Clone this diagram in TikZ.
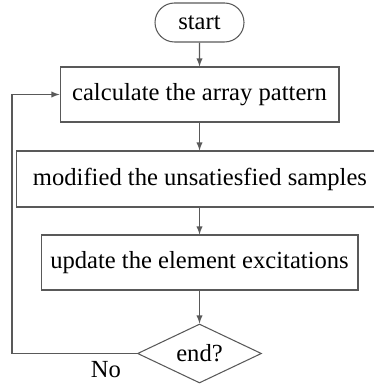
\documentclass[tikz,border=0pt]{standalone}
\usepackage{fontspec}
\setmainfont{Liberation Serif}
\usetikzlibrary{shapes.geometric}
\usetikzlibrary{shapes.misc}

\begin{document}
\begin{tikzpicture}[x=0.02cm, y=-0.02cm,
            every node/.style={font=\fontsize{14}{16}\selectfont, text=black},
            flowline/.style={draw=black!65, line width=0.6pt},
            stepbox/.style={rectangle, flowline, inner sep=0pt},
            terminal/.style={rounded rectangle, flowline, inner sep=0pt, minimum width=1.78cm, minimum height=0.78cm},
            decision/.style={diamond, flowline, inner sep=0pt, aspect=2.1, minimum width=2.48cm, minimum height=1.18cm}]
            \useasboundingbox (0,0) rectangle (373,388);
            \node[terminal] (start) at (199.5,22.5) {start};
            \node[stepbox, minimum width=5.58cm, minimum height=1.1cm] (calc) at (199.5,94.5) {calculate the array pattern};
            \node[stepbox, minimum width=7.36cm, minimum height=1.12cm] (modify) at (200,179) {modified the unsatiesfied samples};
            \node[stepbox, minimum width=6.34cm, minimum height=1.1cm] (update) at (199.5,262.5) {update the element excitations};
            \node[decision] (end) at (199.5,353.5) {end?};
            \coordinate (loop) at (12,353.5);
            \node (no) at (106,370) {No};
            \draw[flowline, -latex] (start) -- (calc);
            \draw[flowline, -latex] (calc.south) -- (calc.south |- modify.north);
            \draw[flowline, -latex] (update.north |- modify.south) -- (update.north);
            \draw[flowline, -latex] (update) -- (end);
            \draw[flowline, -latex] (end.west) -- (loop) |- (calc.west);
        \end{tikzpicture}
\end{document}
